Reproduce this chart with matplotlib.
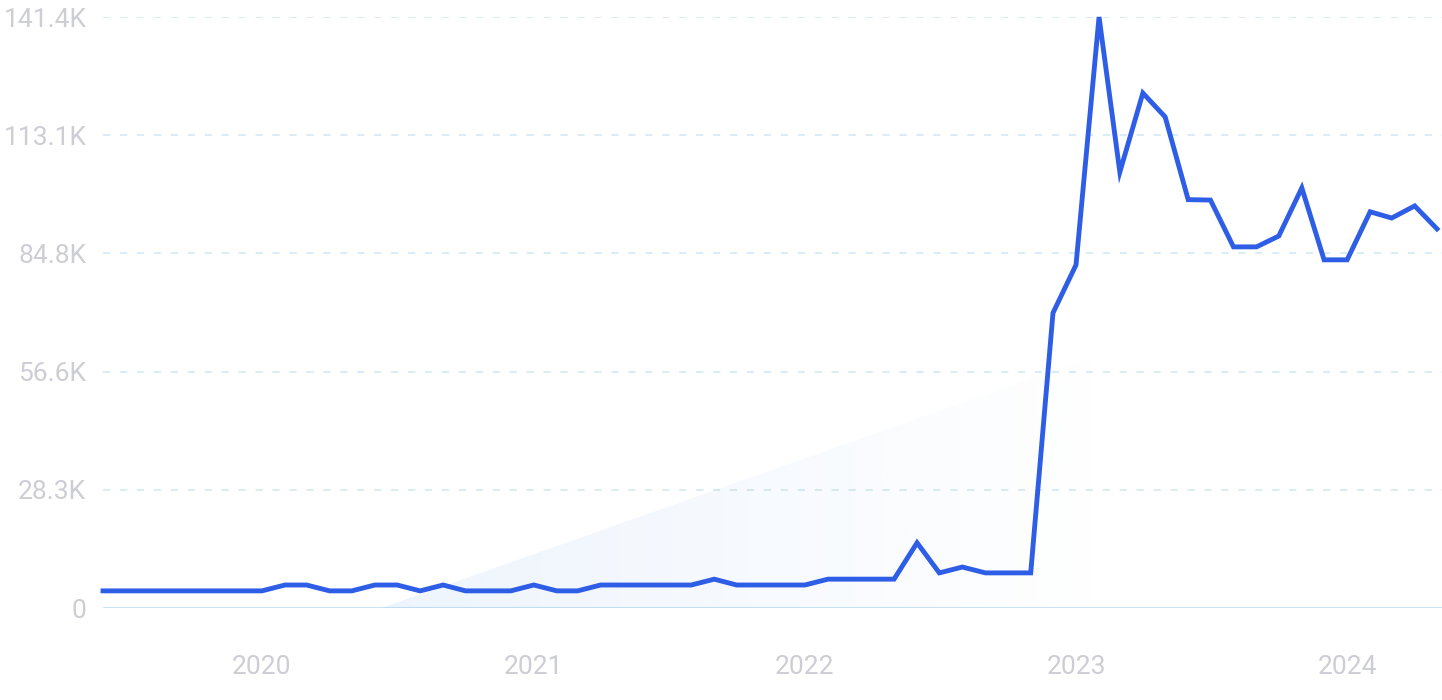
import matplotlib
matplotlib.use('Agg')
import matplotlib.pyplot as plt
import matplotlib.dates as mdates
from matplotlib.patches import Polygon
import numpy as np
import pandas as pd

# ---- data ----
months = pd.date_range('2019-06-01', '2024-05-01', freq='MS')
values = [
    4100, 4100, 4100, 4100, 4100, 4100, 4100, 4100,          # Jun 2019 - Jan 2020
    5500, 5500, 4100, 4100, 5500, 5500, 4100, 5500, 4100, 4100, 4100,  # Feb - Dec 2020
    5500, 4100, 4100, 5500, 5500, 5500, 5500, 5500, 6900, 5500, 5500, 5500,  # 2021
    5500, 6900, 6900, 6900, 6900, 15600, 8400, 9800, 8400, 8400, 8400, 70600,  # 2022
    82100, 141400, 104300, 123200, 117500, 97700, 97600, 86400, 86400, 89000, 100500, 83300,  # 2023
    83300, 94800, 93300, 96200, 90700,                        # Jan - May 2024
]
ytick_values = [0, 28280, 56560, 84840, 113120, 141400]
ytick_labels = ['0', '28.3K', '56.6K', '84.8K', '113.1K', '141.4K']
xtick_years = [2020, 2021, 2022, 2023, 2024]
trend_dates = ['2020-06-10', '2023-02-25']
trend_values = [0, 62200]

# ---- style ----
LINE = '#2e5de6'
GRID = '#d3e9f5'
BASE = '#cbe4f5'
TXT = '#cdcdd5'
plt.rcParams['font.family'] = ['Roboto', 'DejaVu Sans']
plt.rcParams['lines.scale_dashes'] = False

W, H = 1442, 700
fig = plt.figure(figsize=(W / 100, H / 100), dpi=100)
left, right = 103 / W, 1.0
bottom, top = 1 - 608 / H, 1 - 17 / H
ax = fig.add_axes([left, bottom, right - left, top - bottom])

x = mdates.date2num(months.to_pydatetime())
px_per_day = (1437 - 103) / (x[-1] - x[0])
ax.set_xlim(x[0], x[-1] + 5 / px_per_day)
ax.set_ylim(0, ytick_values[-1])

# gradient trend fill
tx = mdates.date2num(pd.to_datetime(trend_dates).to_pydatetime())
tri = Polygon([[tx[0], trend_values[0]], [tx[1], trend_values[1]], [tx[1], 0]],
              closed=True, facecolor='none', edgecolor='none')
ax.add_patch(tri)
n = 512
grad = np.zeros((2, n, 4))
rgb = np.array([100, 160, 240]) / 255
grad[..., 0:3] = rgb
grad[..., 3] = np.linspace(0.11, 0.0, n)[None, :]
im = ax.imshow(grad, extent=[tx[0], tx[1], 0, trend_values[1]], aspect='auto',
               origin='lower', interpolation='bilinear', zorder=1)
im.set_clip_path(tri)

# grid lines
for v in ytick_values[1:]:
    ax.axhline(v, color=GRID, lw=1.2, linestyle=(0, (5.2, 7.0)), zorder=0.5)
ax.axhline(0, color=BASE, lw=1.5, zorder=0.6)

ax.plot(x, values, color=LINE, lw=3.5, solid_joinstyle='miter', zorder=3, clip_on=False)

ax.set_yticks(ytick_values)
ax.set_yticklabels(ytick_labels)
xt = mdates.date2num([pd.Timestamp(f'{y}-01-01').to_pydatetime() for y in xtick_years])
ax.set_xticks(xt)
ax.set_xticklabels([str(y) for y in xtick_years])
ax.tick_params(axis='both', length=0, colors=TXT, labelsize=19)
ax.tick_params(axis='y', pad=12)
ax.tick_params(axis='x', pad=34)
for s in ax.spines.values():
    s.set_visible(False)
ax.set_facecolor('white')

fig.savefig('out.png', dpi=100)
